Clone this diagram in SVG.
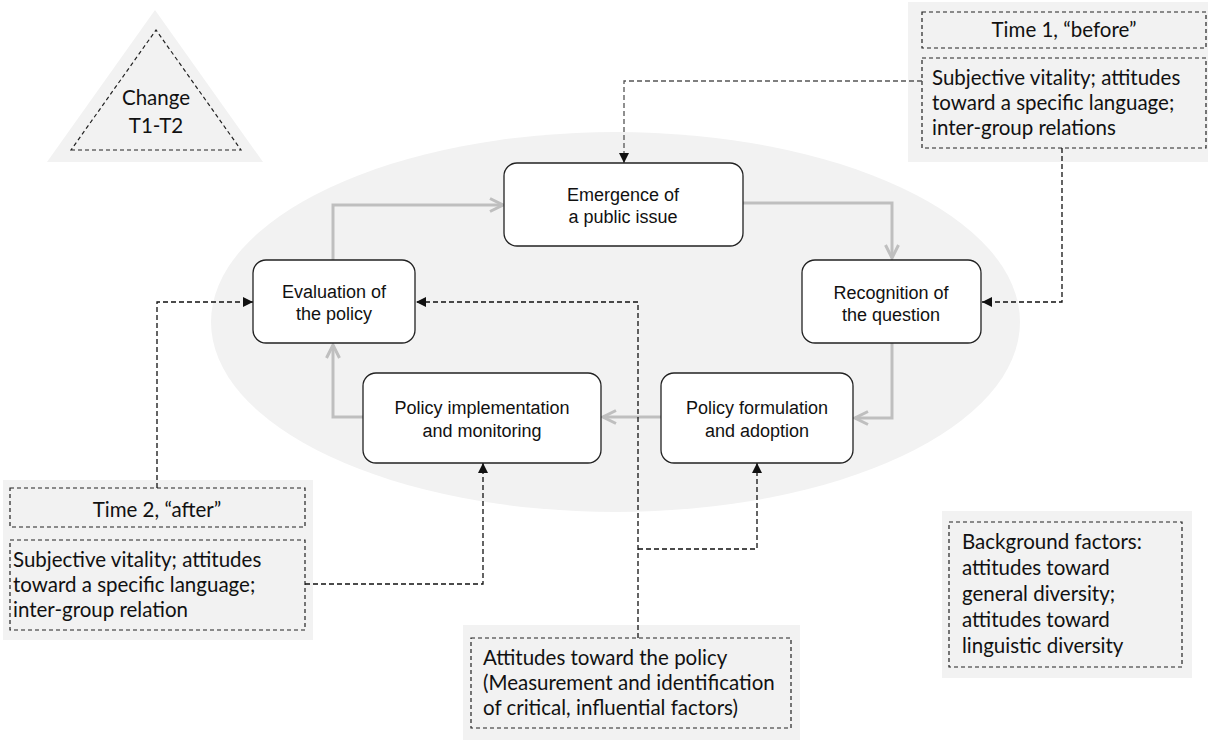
<svg xmlns="http://www.w3.org/2000/svg" width="1208" height="742" viewBox="0 0 1208 742">
<defs>
<style>
.bg{fill:#f2f2f2}
.dbox{fill:none;stroke:#222;stroke-width:1.2;stroke-dasharray:4 3}
.node{fill:#fff;stroke:#222;stroke-width:1.3}
.nt{font-family:"Liberation Sans",Arial,sans-serif;font-size:18px;fill:#111;text-anchor:middle}
.ct{font-family:Lato,"Open Sans",sans-serif;font-size:20.5px;fill:#111}
.flow{fill:none;stroke:#bfbfbf;stroke-width:3;marker-end:url(#ga)}
.dash{fill:none;stroke:#111;stroke-width:1.3;stroke-dasharray:5 3;marker-end:url(#da)}
</style>
<marker id="ga" viewBox="0 0 16 16" refX="14" refY="8" markerWidth="16" markerHeight="16" markerUnits="userSpaceOnUse" orient="auto">
<path d="M1,1.5 L14,8 L1,14.5" fill="none" stroke="#bfbfbf" stroke-width="3"/>
</marker>
<marker id="da" viewBox="0 0 10 10" refX="10" refY="5" markerWidth="10" markerHeight="10" markerUnits="userSpaceOnUse" orient="auto">
<path d="M0,0 L10,5 L0,10 z" fill="#111"/>
</marker>
</defs>

<ellipse class="bg" cx="615.5" cy="322" rx="404.5" ry="190"/>

<g id="change">
<polygon class="bg" points="47,162 263,162 155,10"/>
<polygon class="dbox" points="71,150 241,150 156,30"/>
<text class="ct" x="156" y="105" text-anchor="middle">Change</text>
<text class="ct" x="156" y="133" text-anchor="middle">T1-T2</text>
</g>

<g id="time1">
<rect class="bg" x="908" y="2" width="300" height="160"/>
<rect class="dbox" x="922" y="12" width="284" height="36"/>
<text class="ct" x="1064" y="37" text-anchor="middle">Time 1, “before”</text>
<rect class="dbox" x="922" y="58" width="284" height="90"/>
<text class="ct" x="932" y="85">Subjective vitality; attitudes</text>
<text class="ct" x="932" y="110">toward a specific language;</text>
<text class="ct" x="932" y="135">inter-group relations</text>
</g>

<g id="time2">
<rect class="bg" x="3" y="480" width="310" height="160"/>
<rect class="dbox" x="10" y="488" width="295" height="39"/>
<text class="ct" x="157" y="517" text-anchor="middle">Time 2, “after”</text>
<rect class="dbox" x="10" y="540" width="295" height="90"/>
<text class="ct" x="13" y="567">Subjective vitality; attitudes</text>
<text class="ct" x="13" y="592">toward a specific language;</text>
<text class="ct" x="13" y="617">inter-group relation</text>
</g>

<g id="attitudes">
<rect class="bg" x="463" y="625" width="337" height="115"/>
<rect class="dbox" x="471" y="638" width="320" height="90"/>
<text class="ct" x="483" y="665">Attitudes toward the policy</text>
<text class="ct" x="483" y="690">(Measurement and identification</text>
<text class="ct" x="483" y="715">of critical, influential factors)</text>
</g>

<g id="background">
<rect class="bg" x="942" y="511" width="250" height="167"/>
<rect class="dbox" x="949" y="522" width="233" height="145"/>
<text class="ct" x="962" y="549">Background factors:</text>
<text class="ct" x="962" y="575">attitudes toward</text>
<text class="ct" x="962" y="601">general diversity;</text>
<text class="ct" x="962" y="627">attitudes toward</text>
<text class="ct" x="962" y="653">linguistic diversity</text>
</g>

<g id="connectors">
<path class="flow" d="M333,260 V205 H503"/>
<path class="flow" d="M743,203 H892 V258"/>
<path class="flow" d="M892,343 V418 H855"/>
<path class="flow" d="M661,417 H603"/>
<path class="flow" d="M363,417 H333 V345"/>
<path class="dash" d="M922,81 H624 V163" style="stroke:#555"/>
<path class="dash" d="M1062,148 V302 H982"/>
<path class="dash" d="M157,488 V302 H253"/>
<path class="dash" d="M638,638 V302 H416"/>
<path class="dash" d="M638,549 H757 V463"/>
<path class="dash" d="M305,584 H483 V463"/>
</g>

<g id="emergence">
<rect class="node" x="504" y="163" width="239" height="83" rx="13"/>
<text class="nt" x="623" y="201">Emergence of</text>
<text class="nt" x="623" y="223">a public issue</text>
</g>
<g id="recognition">
<rect class="node" x="802" y="260" width="179" height="83" rx="13"/>
<text class="nt" x="891" y="299">Recognition of</text>
<text class="nt" x="891" y="321">the question</text>
</g>
<g id="formulation">
<rect class="node" x="661" y="373" width="192" height="90" rx="13"/>
<text class="nt" x="757" y="414">Policy formulation</text>
<text class="nt" x="757" y="437">and adoption</text>
</g>
<g id="implementation">
<rect class="node" x="363" y="373" width="238" height="90" rx="13"/>
<text class="nt" x="482" y="414">Policy implementation</text>
<text class="nt" x="482" y="437">and monitoring</text>
</g>
<g id="evaluation">
<rect class="node" x="253" y="260" width="162" height="83" rx="13"/>
<text class="nt" x="334" y="298">Evaluation of</text>
<text class="nt" x="334" y="320">the policy</text>
</g>
</svg>
